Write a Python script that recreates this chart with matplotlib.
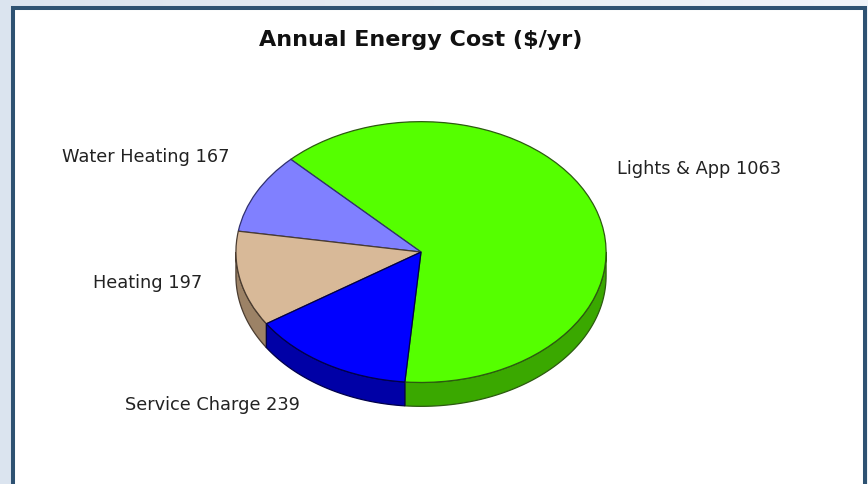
import numpy as np
import matplotlib
matplotlib.use("Agg")
import matplotlib.pyplot as plt
from matplotlib.patches import Rectangle, Polygon
from matplotlib.colors import LinearSegmentedColormap

# data
labels = ["Lights & App", "Water Heating", "Heating", "Service Charge"]
costs = [1063, 167, 197, 239]
top_colors = ["#55ff00", "#8080ff", "#d8b998", "#0000ff"]
side_colors = ["#3aa800", "#5a5ab4", "#9c8266", "#0000a6"]
edge_colors = ["#2c5a10", "#303070", "#4a3c30", "#00004a"]
title = "Annual Energy Cost ($/yr)"

W, H = 868, 485
fig = plt.figure(figsize=(W / 100, H / 100), dpi=100)

# background + framed white panel, in pixel coordinates
bg = fig.add_axes([0, 0, 1, 1])
bg.set_xlim(0, W)
bg.set_ylim(H, 0)
bg.axis("off")
cmap = LinearSegmentedColormap.from_list("bg", ["#dbe4ef", "#f0f4f9"])
bg.imshow(np.linspace(0, 1, 256).reshape(1, -1), cmap=cmap, aspect="auto",
          extent=(0, W, H, 0), zorder=0)
bg.add_patch(Rectangle((13, 9), 852, 500, facecolor="white",
                       edgecolor="#2e5272", linewidth=2.9, zorder=1))

bg.text(421, 46, title, ha="center", va="baseline", fontsize=16,
        fontweight="bold", color="#111111", zorder=3)

# pie: top ellipse centre (421,253), rx 186, ry 131, depth 24 px
cx, cy, rx, ry, depth = 421, 253, 186, 131, 24
d = depth / ry
pie_ax = fig.add_axes([(cx - rx) / W, 1 - (cy + ry + depth) / H,
                       2 * rx / W, (2 * ry + depth) / H])
pie_ax.axis("off")

wedges, _ = pie_ax.pie(costs, colors=top_colors, startangle=-95,
                       counterclock=True,
                       wedgeprops=dict(linewidth=0.9, zorder=3))
for w, ec in zip(wedges, edge_colors):
    w.set_edgecolor(ec)

# side walls for the front half of each slice
for w, sc, ec in zip(wedges, side_colors, edge_colors):
    t1, t2 = w.theta1, w.theta2
    for k in (-1, 0, 1):
        a = max(t1, 180 + 360 * k)
        b = min(t2, 360 + 360 * k)
        if b <= a:
            continue
        t = np.radians(np.linspace(a, b, 80))
        xs = np.cos(t)
        ys = np.sin(t)
        pts = np.concatenate([np.column_stack([xs, ys]),
                              np.column_stack([xs[::-1], ys[::-1] - d])])
        pie_ax.add_patch(Polygon(pts, closed=True, facecolor=sc,
                                 edgecolor=ec, linewidth=0.9, zorder=1))

pie_ax.set_aspect("auto")
pie_ax.set_xlim(-1.005, 1.005)
pie_ax.set_ylim(-1 - d - 0.005, 1.005)

# slice labels
label_pos = [(617, 174, "left"), (229, 162, "right"),
             (202, 288, "right"), (300, 410, "right")]
for name, val, (x, y, ha) in zip(labels, costs, label_pos):
    bg.text(x, y, f"{name} {val}", ha=ha, va="baseline", fontsize=12.8,
            color="#222222", zorder=3)

fig.savefig("out.png", dpi=100)
